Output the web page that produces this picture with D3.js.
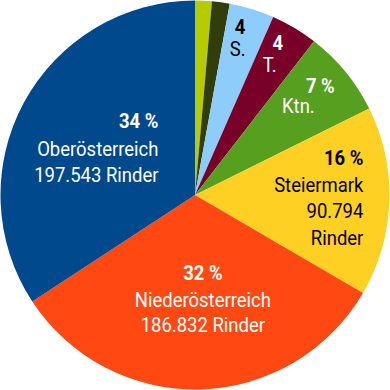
<!DOCTYPE html>
<html>
<head>
<meta charset="utf-8">
<script src="https://cdn.jsdelivr.net/npm/d3@7"></script>
<style>
  html, body { margin: 0; padding: 0; background: #fff; }
  svg { display: block; }
  text { font-family: Roboto, "Noto Sans", sans-serif; font-size: 21px; }
</style>
</head>
<body>
<svg id="chart" width="390" height="390"></svg>
<script>
// ---- data ----
const states = ["Vorarlberg", "Burgenland", "Salzburg", "Tirol", "Kärnten", "Steiermark", "Niederösterreich", "Oberösterreich"];
const shortNames = ["", "", "S.", "T.", "Ktn.", "Steiermark", "Niederösterreich", "Oberösterreich"];
const cattle = [8000, 8500, 21500, 22500, 41500, 90794, 186832, 197543];
const colors = ["#B4CC00", "#313E0B", "#8ECDFB", "#790029", "#57A01F", "#FFD024", "#FF4812", "#00498D"];
const textColors = ["#000", "#fff", "#000", "#fff", "#fff", "#000", "#fff", "#fff"];

// ---- label layout (positions relative to the arc centroid) ----
const labelLayout = [
  null, null,
  { k: 0.82, anchor: "middle", pctSign: false, value: "none", lines: [[-1.5, -8], [-4, 14]] },
  { k: 0.82, anchor: "middle", pctSign: false, value: "none", lines: [[1.3, -8.3], [-6.7, 13.7]] },
  { k: 0.75, anchor: "middle", pctSign: true, value: "none", lines: [[12.5, -9.7], [-9.5, 10.3]] },
  { k: 0.65, anchor: "end", pctSign: true, value: "wrap", lines: [[42, -34], [42, -7.3], [42, 18.8], [42, 45.8]] },
  { k: 0.57, anchor: "middle", pctSign: true, value: "inline", lines: [[5, -25.6], [5, 1], [5, 26.4]] },
  { k: 0.5, anchor: "end", pctSign: true, value: "inline", lines: [[49, -21], [49, 7], [49, 33]] }
];

const W = 390, H = 390, cx = 195, cy = 195, R = 194.5;
const svg = d3.select("#chart");
const g = svg.append("g").attr("transform", `translate(${cx},${cy})`);

const total = d3.sum(cattle);
const pie = d3.pie().sort(null).value(d => d).startAngle(0).endAngle(2 * Math.PI);
const arcs = pie(cattle);
const arc = d3.arc().innerRadius(0).outerRadius(R);

g.selectAll("path.slice")
  .data(arcs)
  .join("path")
  .attr("class", "slice")
  .attr("d", arc)
  .attr("fill", (d, i) => colors[i]);

const fmt = d3.formatLocale({ decimal: ",", thousands: ".", grouping: [3], currency: ["", " €"] }).format(",d");

arcs.forEach((d, i) => {
  const L = labelLayout[i];
  if (!L) return;
  const labelArc = d3.arc().innerRadius(R * L.k).outerRadius(R * L.k);
  const [x0, y0] = labelArc.centroid(d);
  const pct = Math.round(cattle[i] / total * 100);
  const lines = [{ t: pct + (L.pctSign ? " %" : ""), bold: true }, { t: shortNames[i], bold: false }];
  if (L.value === "inline") lines.push({ t: fmt(cattle[i]) + " Rinder", bold: false });
  if (L.value === "wrap") { lines.push({ t: fmt(cattle[i]), bold: false }); lines.push({ t: "Rinder", bold: false }); }
  lines.forEach((ln, j) => {
    const [dx, dy] = L.lines[j];
    g.append("text")
      .attr("transform", `translate(${x0 + dx},${y0 + dy}) scale(0.88,1)`)
      .attr("text-anchor", L.anchor)
      .attr("fill", textColors[i])
      .attr("font-weight", ln.bold ? 700 : 400)
      .text(ln.t);
  });
});
</script>
</body>
</html>
